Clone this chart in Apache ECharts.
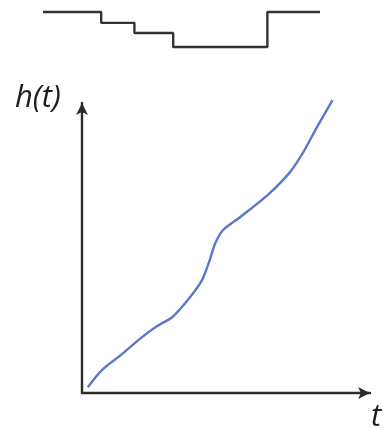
<!DOCTYPE html>
<html>
<head>
<meta charset="utf-8">
<script src="https://cdn.jsdelivr.net/npm/echarts@6/dist/echarts.min.js"></script>
<style>
  html, body { margin: 0; padding: 0; background: #fff; }
  #chart { width: 391px; height: 428px; }
</style>
</head>
<body>
<div id="chart"></div>
<script>
// container profile (step outline above the graph)
const profileX = [0, 21, 33, 47, 81, 100]
const profileY = [100, 69, 40, 0, 100, 100]

// h(t) curve
const curveT = [2, 7, 14, 20.5, 26, 31.5, 37.5, 41.7, 44.4, 46.3, 49, 55, 64.5, 72, 76.7, 81.6, 87]
const curveH = [2, 8, 13.5, 19, 23, 26.3, 33, 39, 46, 51.7, 56.2, 60.7, 68.3, 75.9, 82.8, 91.7, 101]

const axisColor = '#2b2b2b'
const curveColor = '#5a78cf'
const labelFont = { fontFamily: 'Open Sans', fontStyle: 'italic', fontSize: 31, fill: '#1e1e1e' }

const chart = echarts.init(document.getElementById('chart'))

chart.setOption({
  animation: false,
  grid: [
    { left: 82, right: 21, top: 103, bottom: 35 },
    { left: 43, right: 71, top: 12, height: 35 },
  ],
  xAxis: [
    {
      gridIndex: 0, type: 'value', min: 0, max: 100,
      axisLine: { onZero: false, symbol: ['none', 'arrow'], symbolSize: [9, 12], lineStyle: { color: axisColor, width: 2.4 } },
      axisTick: { show: false }, axisLabel: { show: false }, splitLine: { show: false },
    },
    {
      gridIndex: 1, type: 'value', min: 0, max: 100, show: false,
    },
  ],
  yAxis: [
    {
      gridIndex: 0, type: 'value', min: 0, max: 100,
      axisLine: { show: true, onZero: false, symbol: ['none', 'arrow'], symbolSize: [9, 12], lineStyle: { color: axisColor, width: 2.4 } },
      axisTick: { show: false }, axisLabel: { show: false }, splitLine: { show: false },
    },
    {
      gridIndex: 1, type: 'value', min: 0, max: 100, show: false,
    },
  ],
  graphic: [
    { type: 'text', left: 15, top: 83, style: Object.assign({ text: 'h(t)' }, labelFont) },
    { type: 'text', left: 371, top: 402, style: Object.assign({ text: 't' }, labelFont) },
  ],
  series: [
    {
      type: 'line',
      xAxisIndex: 0, yAxisIndex: 0,
      data: curveT.map((t, i) => [t, curveH[i]]),
      smooth: 0.3,
      clip: false,
      symbol: 'none',
      lineStyle: { color: curveColor, width: 2.4 },
    },
    {
      type: 'line',
      xAxisIndex: 1, yAxisIndex: 1,
      data: profileX.map((x, i) => [x, profileY[i]]),
      step: 'end',
      clip: false,
      symbol: 'none',
      lineStyle: { color: '#333', width: 2.4 },
    },
  ],
})
</script>
</body>
</html>
